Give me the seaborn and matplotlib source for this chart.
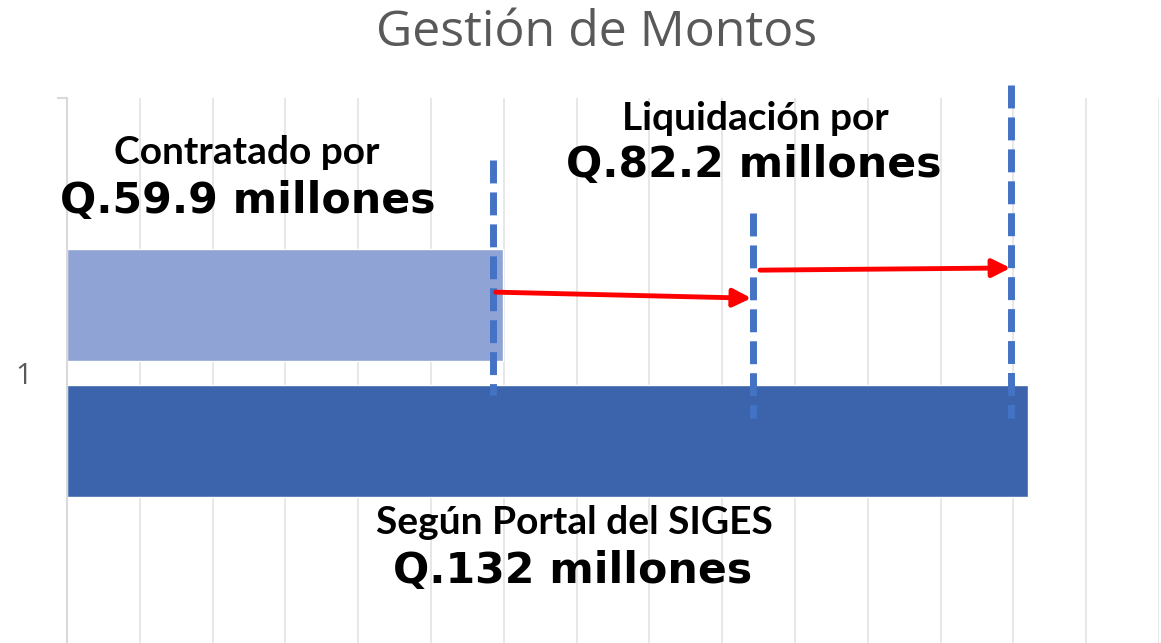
import matplotlib
matplotlib.use("Agg")
import matplotlib.pyplot as plt
import seaborn as sns
import pandas as pd
from matplotlib.ticker import MultipleLocator, FixedLocator

# ---- data ----
categories = ["1"]
series = ["Contratado", "Según Portal del SIGES"]
values = [59.9, 132.0]
bar_colors = ["#8FA4D4", "#3C64AC"]

# annotation markers (millions)
marker_x = [58.5, 94.2, 129.7]
marker_y_top = [-0.387, -0.291, -0.524]
marker_y_bottom = [0.04, 0.082, 0.082]
arrow_start = [(58.9, -0.147), (95.2, -0.187)]
arrow_end = [(94.0, -0.136), (129.6, -0.191)]

title = "Gestión de Montos"
labels_small = ["Contratado por", "Liquidación por", "Según Portal del SIGES"]
labels_big = ["Q.59.9 millones", "Q.82.2 millones", "Q.132 millones"]

df = pd.DataFrame({"cat": categories * len(series),
                   "serie": series,
                   "valor": values})

sns.set_theme(style="white")
plt.rcParams['font.family'] = ['DejaVu Sans']

W, H = 1161, 643
fig = plt.figure(figsize=(W / 100, H / 100), dpi=100)
ax = fig.add_axes([67 / W, -5 / H, (1159 - 67) / W, (648 - 98) / H])

sns.barplot(data=df, x="valor", y="cat", hue="serie", orient="h",
            palette=bar_colors, width=0.494, gap=0.17, ax=ax,
            legend=False, zorder=2, saturation=1)

ax.set_xlim(0, 150)
ax.set_ylim(0.5, -0.5)
ax.xaxis.set_major_locator(MultipleLocator(10))
ax.grid(axis="x", color="#E3E3E3", linewidth=1.2, zorder=0)
ax.grid(axis="y", visible=False)
ax.set_axisbelow(True)
ax.set_xticklabels([])
ax.tick_params(axis="x", length=0)
ax.set_xlabel("")
ax.set_ylabel("")
ax.set_yticks([0])
ax.set_yticklabels(categories, fontsize=21, color="#595959",
                   family="Open Sans")
ax.yaxis.set_minor_locator(FixedLocator([-0.5]))
ax.tick_params(axis="y", which="major", length=0, pad=25)
ax.tick_params(axis="y", which="minor", length=7, width=1.5, color="#D9D9D9",
               left=True)
for s in ["top", "right", "bottom"]:
    ax.spines[s].set_visible(False)
ax.spines["left"].set_color("#D9D9D9")
ax.spines["left"].set_linewidth(1.5)

# dashed marker lines
for x, y0, y1 in zip(marker_x, marker_y_top, marker_y_bottom):
    ax.plot([x, x], [y0, y1], color="#4472C4", linewidth=5, zorder=4,
            dashes=(3.3, 1.3), clip_on=False, solid_capstyle="butt",
            dash_capstyle="butt")

# red arrows
for (xs, ys), (xe, ye) in zip(arrow_start, arrow_end):
    ax.annotate("", xy=(xe, ye), xytext=(xs, ys),
                arrowprops=dict(arrowstyle="-|>,head_length=0.9,head_width=0.45",
                                color="#FF0000", lw=3.5, shrinkA=0, shrinkB=0),
                zorder=5)

# title
fig.text(597 / W, 1 - 33 / H, title, ha="center", va="center",
         fontsize=36, color="#595959", family="Open Sans")

# annotation texts
small_pos = [(247, 152), (755, 118), (574, 522)]
big_pos = [(248, 201), (754, 165), (573, 571)]
for t, (px, py) in zip(labels_small, small_pos):
    fig.text(px / W, 1 - py / H, t, ha="center", va="center", fontsize=28,
             fontweight="bold", color="black", family="Lato")
for t, (px, py) in zip(labels_big, big_pos):
    fig.text(px / W, 1 - py / H, t, ha="center", va="center", fontsize=30.7,
             fontweight="bold", color="black", family="DejaVu Sans")

fig.savefig("out.png", dpi=100)
